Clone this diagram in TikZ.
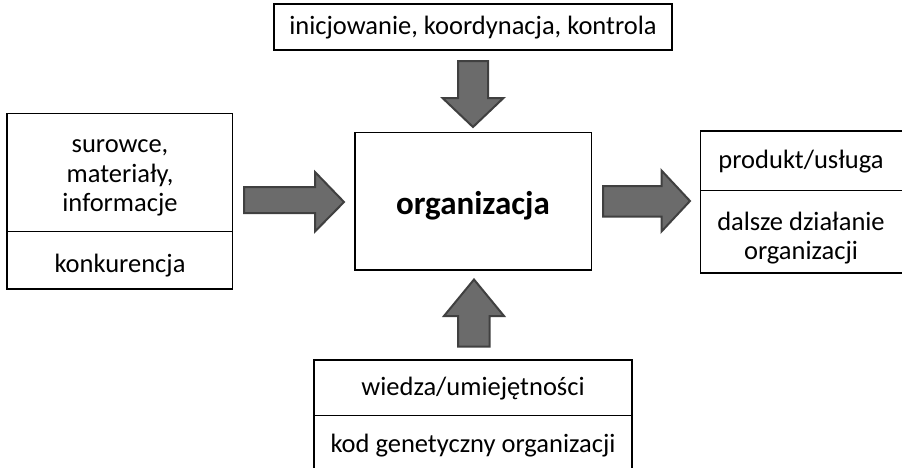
\documentclass[tikz,border=0pt]{standalone}
\usepackage{fontspec}
\setmainfont{Carlito}
\begin{document}
\begin{tikzpicture}[x=1pt,y=-1pt,
  box/.style={draw=black,line width=1.3pt},
  lbl/.style={font=\fontsize{26.5}{29.5}\selectfont,align=center,inner sep=0pt},
  blockarrow/.style={fill=arrowgray,draw=arroweddge,line width=2pt,line join=miter}]
\definecolor{arrowgray}{HTML}{6B6B6B}
\definecolor{arroweddge}{HTML}{404040}
\useasboundingbox (0,0) rectangle (902,467);
% boxes
\draw[box] (274,4) rectangle (672,50);
\node[lbl] (toptxt) at (473,28) {inicjowanie, koordynacja, kontrola};
\draw[box] (355,132.5) rectangle (591.5,270);
\node[lbl,font=\bfseries\fontsize{33}{38}\selectfont] (org) at (473,206) {organizacja};
\draw[box] (7,113.5) rectangle (232.5,289);
\draw[box] (7,231.5) -- (232.5,231.5);
\node[lbl] (left1) at (120,178) {surowce,\\materiały,\\informacje};
\node[lbl] (left2) at (120,266) {konkurencja};
\draw[box] (700.5,131) rectangle (910,273);
\draw[box] (700.5,190.5) -- (910,190.5);
\node[lbl] (right1) at (801,162) {produkt/usługa};
\node[lbl] (right2) at (801,238) {dalsze działanie\\organizacji};
\draw[box] (314,360) rectangle (632,480);
\draw[box] (314,415.5) -- (632,415.5);
\node[lbl] (bot1) at (473,389) {wiedza/umiejętności};
\node[lbl] (bot2) at (473,446) {kod genetyczny organizacji};
% block arrows
\draw[blockarrow] (458,61) -- (488,61) -- (488,98) -- (503.5,98) -- (473,127) -- (442.5,98) -- (458,98) -- cycle;
\draw[blockarrow] (458,346.5) -- (489.5,346.5) -- (489.5,316) -- (504,316) -- (474,279.5) -- (444,316) -- (458,316) -- cycle;
\draw[blockarrow] (244,187) -- (315,187) -- (315,172) -- (344,202) -- (315,231.5) -- (315,213) -- (244,213) -- cycle;
\draw[blockarrow] (603,186) -- (661.5,186) -- (661.5,170.5) -- (690,201) -- (661.5,231.5) -- (661.5,216.5) -- (603,216.5) -- cycle;
\end{tikzpicture}
\end{document}
